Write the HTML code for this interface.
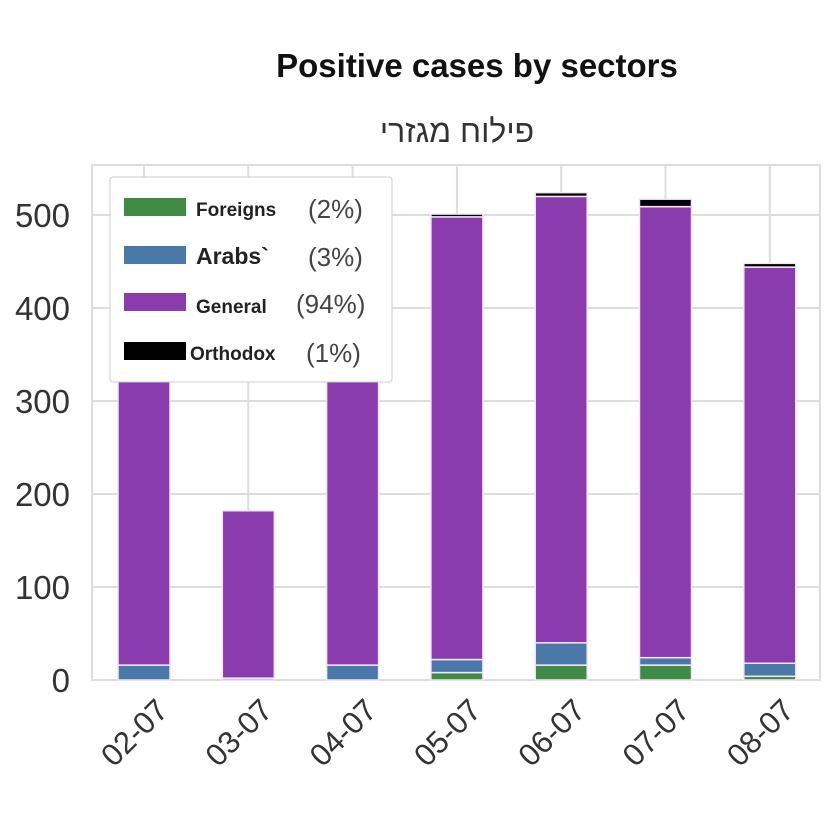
<!DOCTYPE html>
<html><head><meta charset="utf-8"><style>
body{margin:0;background:#fff;}
svg text{font-family:"Liberation Sans","Noto Sans CJK SC",sans-serif;}
</style></head><body>
<svg id="c" width="825" height="827">
<text x="477" y="77" text-anchor="middle" font-size="33" font-weight="bold" fill="#111">Positive cases by sectors</text>
<text x="457" y="142" text-anchor="middle" font-size="32" fill="#333" font-family="'Noto Sans CJK SC','DejaVu Sans',sans-serif">פילוח מגזרי</text>
<g id="grid"></g><g id="bars"></g><g id="axes"></g>
<g id="legend">
<rect x="110" y="177" width="282" height="205" fill="#fff" stroke="#ccc" rx="3"/>
<g><rect x="124" y="198" width="62" height="18" fill="#3f8a44"/><text x="196" y="216" font-size="19" font-weight="bold" fill="#222">Foreigns</text><text x="308" y="218" font-size="26" fill="#444">(2%)</text></g>
<g><rect x="124" y="246" width="62" height="18" fill="#4a78a8"/><text x="196" y="264" font-size="23" font-weight="bold" fill="#222">Arabs`</text><text x="308" y="266" font-size="26" fill="#444">(3%)</text></g>
<g><rect x="124" y="293" width="62" height="18" fill="#8a3caf"/><text x="196" y="313" font-size="19" font-weight="bold" fill="#222">General</text><text x="296" y="313" font-size="26" fill="#444">(94%)</text></g>
<g><rect x="124" y="342" width="62" height="18" fill="#000"/><text x="190" y="360" font-size="19" font-weight="bold" fill="#222">Orthodox</text><text x="306" y="362" font-size="26" fill="#444">(1%)</text></g>
</g>
</svg>
<script>
const categories=["02-07","03-07","04-07","05-07","06-07","07-07","08-07"];
const foreigns=[0,0,0,8,16,16,4];
const arabs=[16,2,16,14,24,8,14];
const general=[330,180,325,476,480,485,426];
const orthodox=[0,0,0,3,4,8,4];
const yTicks=[0,100,200,300,400,500];
const NS="http://www.w3.org/2000/svg";
const x0=92,x1=820,yTop=165,yBase=680;
const y=v=>yBase-v*0.93;
const bandX=i=>144+i*104.3;
const bw=52;
function mk(t,a,p){const e=document.createElementNS(NS,t);for(const k in a)e.setAttribute(k,a[k]);p.appendChild(e);return e;}
const grid=document.getElementById('grid'),bars=document.getElementById('bars'),axes=document.getElementById('axes');
mk('rect',{x:x0,y:yTop,width:x1-x0,height:yBase-yTop,fill:'#fff',stroke:'#ddd','stroke-width':2},grid);
yTicks.forEach(t=>{
 const l=mk('line',{x1:x0,x2:x1,y1:y(t),y2:y(t),stroke:'#ddd','stroke-width':2},grid);
 
 
 const tx=mk('text',{x:70,y:y(t)+12,'text-anchor':'end','font-size':33,fill:'#333'},axes);
 tx.textContent=t;
 
 
});
categories.forEach((c,i)=>{
 const cx=bandX(i);
 const l=mk('line',{x1:cx,x2:cx,y1:yTop,y2:yBase,stroke:'#ddd','stroke-width':2},grid);
 
 
 const series=[[foreigns,'#3f8a44','foreigns'],[arabs,'#4a78a8','arabs'],[general,'#8a3caf','general'],[orthodox,'#000','orthodox']];
 let acc=0;
 series.forEach(([arr,col,nm])=>{
  const v=arr[i]; if(v<=0)return;
  const r=mk('rect',{x:cx-bw/2,y:y(acc+v),width:bw,height:v*0.93,fill:col,stroke:'#f3e6f7','stroke-width':1.5},bars);
  
  
  acc+=v;
 });
 const tx=mk('text',{x:cx+26,y:712,'text-anchor':'end','font-size':31,fill:'#333',transform:`rotate(-45 ${cx+26} 712)`},axes);
 tx.textContent=c;
 
 
});
</script>
</body></html>
